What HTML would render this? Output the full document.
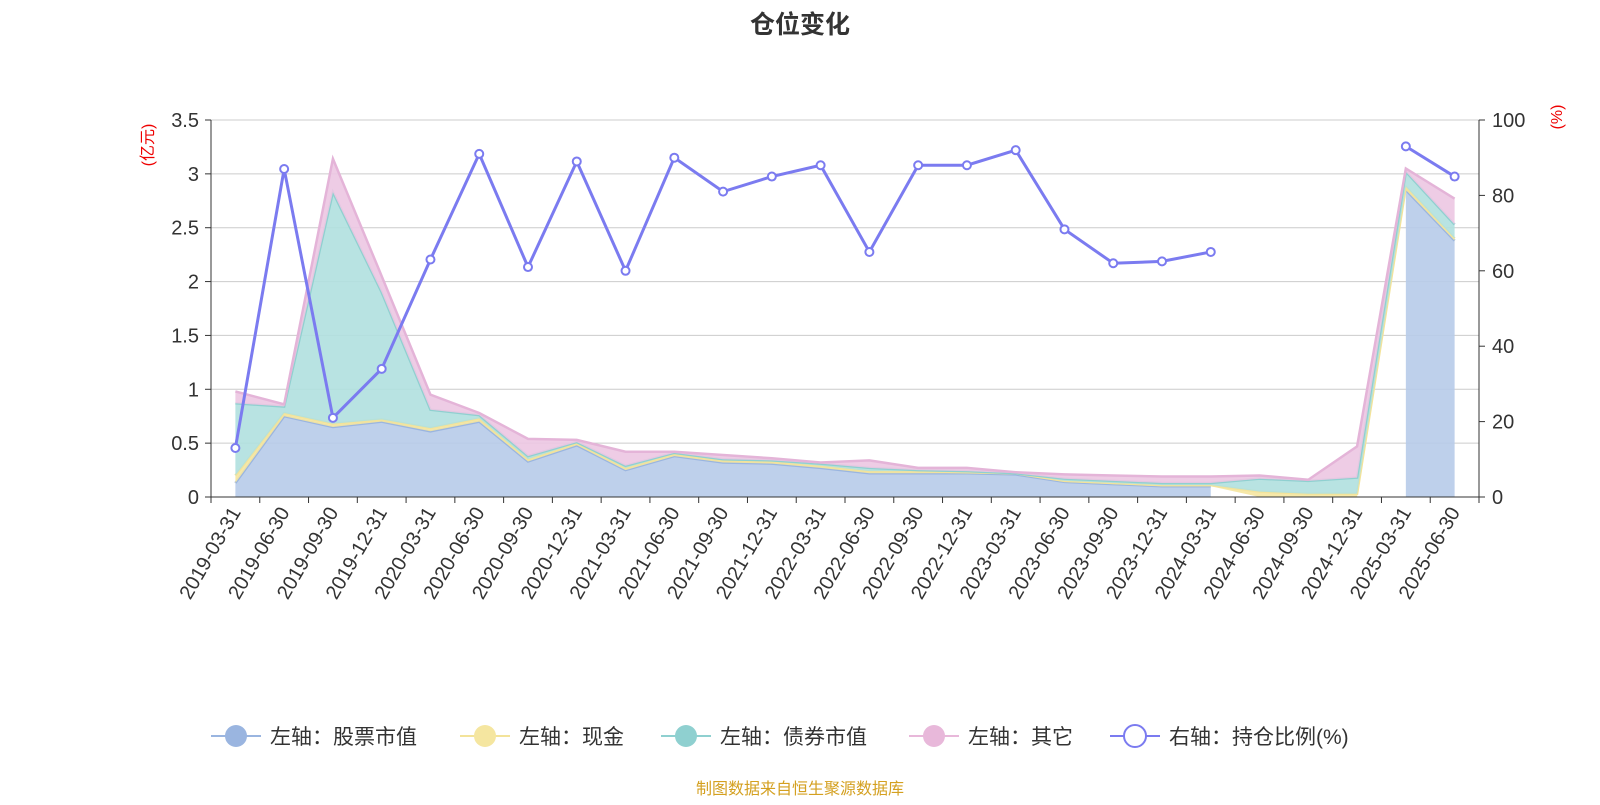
<!DOCTYPE html>
<html><head><meta charset="utf-8">
<style>
body{margin:0;background:#fff;font-family:"Liberation Sans","Noto Sans CJK SC",sans-serif;}
svg text{font-family:"Liberation Sans","Noto Sans CJK SC",sans-serif;}
</style></head>
<body>
<svg id="c" width="1600" height="800" xmlns="http://www.w3.org/2000/svg">
<text x="800" y="33" text-anchor="middle" font-size="25" font-weight="bold" fill="#333">仓位变化</text>
<text transform="translate(153,145) rotate(-90)" text-anchor="middle" font-size="16" fill="#e00">(亿元)</text>
<text transform="translate(1562,117) rotate(-90)" text-anchor="middle" font-size="16" fill="#e00">(%)</text>
<g id="grid"></g><g id="areas"></g><g id="axes"></g><g id="line"></g>
<g id="legend" font-size="21" fill="#333" transform="translate(0,-4)">
<g><line x1="211" y1="740" x2="261" y2="740" stroke="#9ab5e0" stroke-width="2"/><circle cx="236" cy="740" r="11" fill="#9ab5e0"/><text x="270" y="748">左轴：股票市值</text></g>
<g><line x1="460" y1="740" x2="510" y2="740" stroke="#f3e39a" stroke-width="2"/><circle cx="485" cy="740" r="11" fill="#f5e6a0"/><text x="519" y="748">左轴：现金</text></g>
<g><line x1="661" y1="740" x2="711" y2="740" stroke="#8fd0d0" stroke-width="2"/><circle cx="686" cy="740" r="11" fill="#8fd0d0"/><text x="720" y="748">左轴：债券市值</text></g>
<g><line x1="909" y1="740" x2="959" y2="740" stroke="#e8b8da" stroke-width="2"/><circle cx="934" cy="740" r="11" fill="#e8b8da"/><text x="968" y="748">左轴：其它</text></g>
<g><line x1="1110" y1="740" x2="1160" y2="740" stroke="#7b7bf0" stroke-width="2"/><circle cx="1135" cy="740" r="11" fill="#fff" stroke="#7b7bf0" stroke-width="2"/><text x="1169" y="748">右轴：持仓比例(%)</text></g>
</g>
<text x="800" y="794" text-anchor="middle" font-size="16" fill="#d4a020">制图数据来自恒生聚源数据库</text>
</svg>
<script>
const categories=["2019-03-31","2019-06-30","2019-09-30","2019-12-31","2020-03-31","2020-06-30","2020-09-30","2020-12-31","2021-03-31","2021-06-30","2021-09-30","2021-12-31","2022-03-31","2022-06-30","2022-09-30","2022-12-31","2023-03-31","2023-06-30","2023-09-30","2023-12-31","2024-03-31","2024-06-30","2024-09-30","2024-12-31","2025-03-31","2025-06-30"];
const stockValues=[0.13,0.75,0.65,0.70,0.61,0.70,0.33,0.48,0.25,0.38,0.32,0.31,0.27,0.22,0.22,0.22,0.21,0.14,0.12,0.10,0.10,null,null,null,2.85,2.38];
const cashValues=[0.07,0.03,0.03,0.02,0.03,0.03,0.02,0.02,0.02,0.02,0.02,0.02,0.02,0.02,0.02,0.01,0.01,0.01,0.01,0.01,0.01,0.05,0.03,0.03,0.03,0.02];
const bondValues=[0.67,0.06,2.15,1.18,0.17,0.03,0.03,0.01,0.02,0.01,0.01,0.01,0.02,0.03,0.01,0.01,0.00,0.02,0.02,0.02,0.02,0.12,0.12,0.15,0.14,0.13];
const otherValues=[0.11,0.02,0.31,0.15,0.14,0.02,0.16,0.02,0.13,0.01,0.04,0.02,0.01,0.07,0.02,0.03,0.01,0.04,0.05,0.06,0.06,0.03,0.01,0.29,0.03,0.24];
const ratioValues=[13,87,21,34,63,91,61,89,60,90,81,85,88,65,88,88,92,71,62,62.5,65,null,null,null,93,85];
const leftTicks=["0","0.5","1","1.5","2","2.5","3","3.5"];
const rightTicks=["0","20","40","60","80","100"];

const NS="http://www.w3.org/2000/svg";
const X0=211,X1=1479,Y0=497,Y1=120;
const bw=(X1-X0)/categories.length;
const xs=i=>X0+bw*(i+0.5);
const yL=v=>Y0-(v/3.5)*(Y0-Y1);
const yR=v=>Y0-(v/100)*(Y0-Y1);
function mk(tag,attrs,parent){const e=document.createElementNS(NS,tag);for(const k in attrs)e.setAttribute(k,attrs[k]);parent.appendChild(e);return e;}
const grid=document.getElementById('grid'),axes=document.getElementById('axes'),areas=document.getElementById('areas'),line=document.getElementById('line');
leftTicks.forEach((t,i)=>{const v=parseFloat(t);const y=yL(v);
 const g=mk('line',{x1:X0,x2:X1,y1:y,y2:y,stroke:'#ccc','stroke-width':1},grid);
 
 
 mk('line',{x1:X0-6,x2:X0,y1:y,y2:y,stroke:'#333'},axes);
 const tx=mk('text',{x:X0-12,y:y+7,'text-anchor':'end','font-size':20,fill:'#333'},axes);tx.textContent=t;
 
 
});
rightTicks.forEach(t=>{const y=yR(parseFloat(t));
 mk('line',{x1:X1,x2:X1+6,y1:y,y2:y,stroke:'#333'},axes);
 const tx=mk('text',{x:X1+13,y:y+7,'font-size':20,fill:'#333'},axes);tx.textContent=t;
 
 
});
mk('line',{x1:X0,x2:X0,y1:Y1,y2:Y0,stroke:'#333'},axes);
mk('line',{x1:X1,x2:X1,y1:Y1,y2:Y0,stroke:'#333'},axes);
mk('line',{x1:X0,x2:X1,y1:Y0,y2:Y0,stroke:'#333'},axes);
for(let i=0;i<=categories.length;i++){const x=X0+bw*i;mk('line',{x1:x,x2:x,y1:Y0,y2:Y0+6,stroke:'#333'},axes);}
categories.forEach((c,i)=>{const x=xs(i);
 const tx=mk('text',{transform:`translate(${x+6},${Y0+15}) rotate(-60)`,'text-anchor':'end','font-size':20,fill:'#333'},axes);tx.textContent=c;
 
 
});
const series=[[stockValues,'#b7cbe9','#9ab5e0','stock-area'],[cashValues,'#f5e6a0','#f3e39a','cash-area'],[bondValues,'#b0e0df','#8fd0d0','bond-area'],[otherValues,'#ecc6e2','#e4b4d8','other-area']];
let base=categories.map(()=>0);
series.forEach(([vals,fill,stroke,name])=>{
 const top=vals.map((v,i)=>v==null?null:base[i]+v);
 let i=0;
 while(i<vals.length){
  if(top[i]==null){i++;continue;}
  let j=i;while(j+1<vals.length&&top[j+1]!=null)j++;
  let pts=[],bpts=[];
  for(let k=i;k<=j;k++){pts.push(xs(k)+','+yL(top[k]));bpts.unshift(xs(k)+','+yL(base[k]));}
  const p=mk('polygon',{points:pts.concat(bpts).join(' '),fill:fill,'fill-opacity':0.9},areas);
  
  
  const l=mk('polyline',{points:pts.join(' '),fill:'none',stroke:stroke,'stroke-width':2.5},areas);
  
  
  i=j+1;
 }
 base=base.map((b,k)=>top[k]==null?b:top[k]);
});
let i=0;
while(i<ratioValues.length){
 if(ratioValues[i]==null){i++;continue;}
 let j=i;while(j+1<ratioValues.length&&ratioValues[j+1]!=null)j++;
 const pts=[];for(let k=i;k<=j;k++)pts.push(xs(k)+','+yR(ratioValues[k]));
 const l=mk('polyline',{points:pts.join(' '),fill:'none',stroke:'#7b7bf0','stroke-width':3},line);
 
 
 i=j+1;
}
ratioValues.forEach((v,k)=>{if(v==null)return;
 const c=mk('circle',{cx:xs(k),cy:yR(v),r:4,fill:'#fff',stroke:'#7b7bf0','stroke-width':2},line);
 
 
});
</script>
</body></html>
